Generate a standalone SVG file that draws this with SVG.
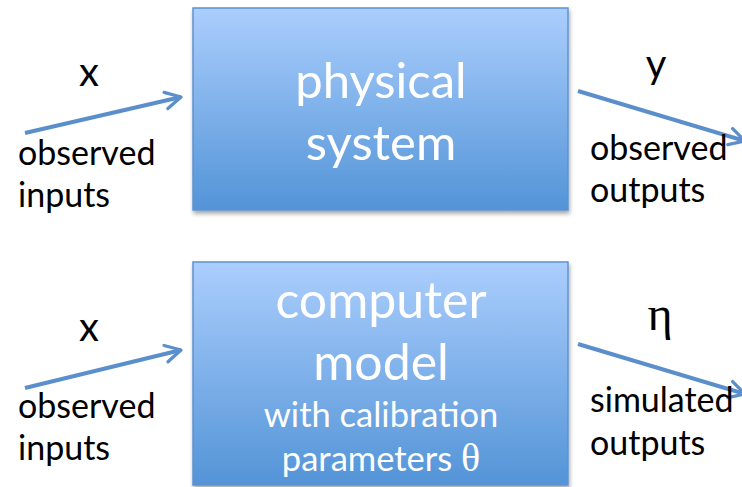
<svg xmlns="http://www.w3.org/2000/svg" width="742" height="487" viewBox="0 0 742 487">
  <defs>
    <linearGradient id="boxFill" x1="0" y1="0" x2="0" y2="1">
      <stop offset="0" stop-color="#abcefd"/>
      <stop offset="1" stop-color="#5394d7"/>
    </linearGradient>
    <filter id="shadow" x="-5%" y="-5%" width="112%" height="115%">
      <feGaussianBlur in="SourceAlpha" stdDeviation="2"/>
      <feOffset dx="1" dy="3" result="b"/>
      <feComponentTransfer><feFuncA type="linear" slope="0.35"/></feComponentTransfer>
      <feMerge><feMergeNode/><feMergeNode in="SourceGraphic"/></feMerge>
    </filter>
    <marker id="arrow" viewBox="0 0 10 10" refX="8.5" refY="5" markerWidth="5.5" markerHeight="5.5" orient="auto" markerUnits="strokeWidth">
      <path d="M1.5,1.2 L8.5,5 L1.5,8.8" fill="none" stroke="#5b8fcc" stroke-width="1.5" stroke-linecap="round" stroke-linejoin="round"/>
    </marker>
  </defs>
  <style>
    .box { fill: url(#boxFill); stroke: #5f92cf; stroke-width: 1.5; }
    .in { font-family: Lato, "Open Sans", sans-serif; fill: #ffffff; text-anchor: middle; }
    .lbl { font-family: Lato, "Open Sans", sans-serif; fill: #000000; font-size: 34px; }
    .var { font-family: Lato, "Open Sans", sans-serif; fill: #000000; font-size: 40px; text-anchor: middle; }
    .greek { font-family: "Liberation Serif", serif; }
    .var.greek { font-size: 48px; }
    .edge { stroke: #5b8fcc; stroke-width: 4; fill: none; marker-end: url(#arrow); }
  </style>

  <g id="physical-system">
    <rect class="box" x="193" y="8" width="375" height="202" filter="url(#shadow)"/>
    <text class="in" x="381" y="98" font-size="49">physical</text>
    <text class="in" x="381" y="160" font-size="49">system</text>
  </g>

  <g id="computer-model">
    <rect class="box" x="193" y="262" width="375" height="223" filter="url(#shadow)"/>
    <text class="in" x="381" y="318" font-size="50">computer</text>
    <text class="in" x="381" y="380" font-size="50">model</text>
    <text class="in" x="381" y="427" font-size="34.5">with calibration</text>
    <text class="in" x="381" y="471" font-size="34.5">parameters <tspan class="greek" font-size="40">θ</tspan></text>
  </g>

  <g id="connectors">
    <line class="edge" x1="25" y1="133" x2="181" y2="97"/>
    <line class="edge" x1="578" y1="91" x2="745" y2="141"/>
    <line class="edge" x1="25" y1="388" x2="181" y2="350"/>
    <line class="edge" x1="578" y1="344" x2="745" y2="394"/>
  </g>

  <g id="labels">
    <text class="var" x="89" y="86">x</text>
    <text class="lbl" x="18" y="165">observed</text>
    <text class="lbl" x="18" y="207">inputs</text>
    <text class="var" x="656" y="78">y</text>
    <text class="lbl" x="590" y="160">observed</text>
    <text class="lbl" x="590" y="202">outputs</text>
    <text class="var" x="89" y="341">x</text>
    <text class="lbl" x="18" y="418">observed</text>
    <text class="lbl" x="18" y="460">inputs</text>
    <text class="var greek" x="660" y="330">η</text>
    <text class="lbl" x="590" y="412">simulated</text>
    <text class="lbl" x="590" y="455">outputs</text>
  </g>
</svg>
